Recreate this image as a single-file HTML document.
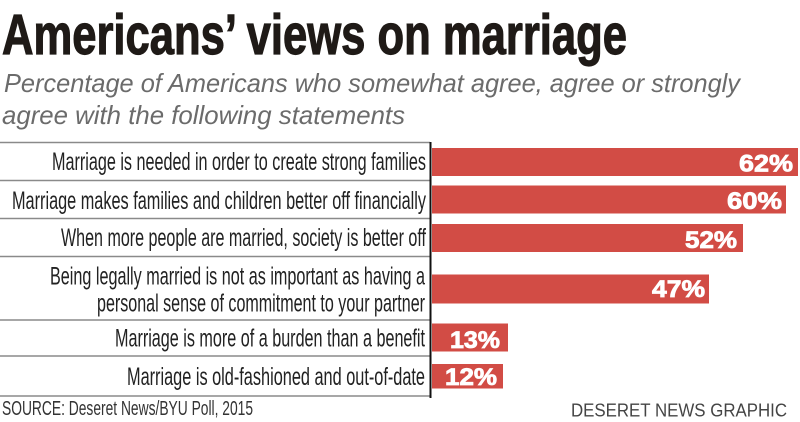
<!DOCTYPE html>
<html>
<head>
<meta charset="utf-8">
<style>
  html,body{margin:0;padding:0;background:#fff;}
  svg{display:block;}
</style>
</head>
<body>
<svg width="800" height="422" viewBox="0 0 800 422" xmlns="http://www.w3.org/2000/svg">
  <rect x="0" y="0" width="800" height="422" fill="#ffffff"/>
  <!-- Title -->
  <text x="2" y="54" font-family="Liberation Sans, sans-serif" font-weight="bold" font-size="57" fill="#1f1a17" stroke="#1f1a17" stroke-width="1.2" textLength="625" lengthAdjust="spacingAndGlyphs">Americans’ views on marriage</text>
  <!-- Subtitle -->
  <text x="4" y="92" font-family="Liberation Sans, sans-serif" font-style="italic" font-size="26" fill="#6b6b6b" textLength="736" lengthAdjust="spacingAndGlyphs">Percentage of Americans who somewhat agree, agree or strongly</text>
  <text x="2" y="124" font-family="Liberation Sans, sans-serif" font-style="italic" font-size="26" fill="#6b6b6b" textLength="403" lengthAdjust="spacingAndGlyphs">agree with the following statements</text>

  <!-- Separators -->
  <g stroke="#8a8a8a" stroke-width="1.5">
    <line x1="0" y1="142.5" x2="430" y2="142.5"/>
    <line x1="0" y1="180.5" x2="430" y2="180.5"/>
    <line x1="0" y1="218.5" x2="430" y2="218.5"/>
    <line x1="0" y1="256.5" x2="430" y2="256.5"/>
    <line x1="0" y1="320" x2="430" y2="320"/>
    <line x1="0" y1="356" x2="430" y2="356"/>
    <line x1="0" y1="396" x2="430" y2="396"/>
  </g>

  <!-- Bars -->
  <g fill="#d24c45">
    <rect x="432" y="148" width="366" height="28"/>
    <rect x="432" y="185.5" width="354" height="28"/>
    <rect x="432" y="224" width="311" height="28"/>
    <rect x="432" y="274.5" width="277" height="29"/>
    <rect x="432" y="323.5" width="76" height="28"/>
    <rect x="432" y="364" width="71" height="24.5"/>
  </g>

  <!-- Axis line -->
  <line x1="430.5" y1="142" x2="430.5" y2="398" stroke="#111" stroke-width="2"/>

  <!-- Labels -->
  <g font-family="Liberation Sans, sans-serif" font-size="25" fill="#222">
    <text x="52" y="170" textLength="374" lengthAdjust="spacingAndGlyphs">Marriage is needed in order to create strong families</text>
    <text x="12" y="209" textLength="414" lengthAdjust="spacingAndGlyphs">Marriage makes families and children better off financially</text>
    <text x="61" y="246" textLength="365" lengthAdjust="spacingAndGlyphs">When more people are married, society is better off</text>
    <text x="50" y="284.5" textLength="375" lengthAdjust="spacingAndGlyphs">Being legally married is not as important as having a</text>
    <text x="97" y="311.5" textLength="328" lengthAdjust="spacingAndGlyphs">personal sense of commitment to your partner</text>
    <text x="115" y="346.5" textLength="310" lengthAdjust="spacingAndGlyphs">Marriage is more of a burden than a benefit</text>
    <text x="127" y="385" textLength="298" lengthAdjust="spacingAndGlyphs">Marriage is old-fashioned and out-of-date</text>
  </g>

  <!-- Values -->
  <g font-family="Liberation Sans, sans-serif" font-weight="bold" font-size="24" fill="#ffffff" stroke="#ffffff" stroke-width="0.8">
    <text x="739" y="171.5" textLength="54" lengthAdjust="spacingAndGlyphs">62%</text>
    <text x="727" y="209" textLength="55" lengthAdjust="spacingAndGlyphs">60%</text>
    <text x="685" y="248" textLength="52" lengthAdjust="spacingAndGlyphs">52%</text>
    <text x="652" y="297" textLength="53" lengthAdjust="spacingAndGlyphs">47%</text>
    <text x="450" y="348" textLength="50" lengthAdjust="spacingAndGlyphs">13%</text>
    <text x="445" y="385" textLength="52" lengthAdjust="spacingAndGlyphs">12%</text>
  </g>

  <!-- Footer -->
  <text x="2" y="415" font-family="Liberation Sans, sans-serif" font-size="20" fill="#333" textLength="251" lengthAdjust="spacingAndGlyphs">SOURCE: Deseret News/BYU Poll, 2015</text>
  <text x="571" y="416.5" font-family="Liberation Sans, sans-serif" font-size="18.5" fill="#444" textLength="216" lengthAdjust="spacingAndGlyphs">DESERET NEWS GRAPHIC</text>
</svg>
</body>
</html>
